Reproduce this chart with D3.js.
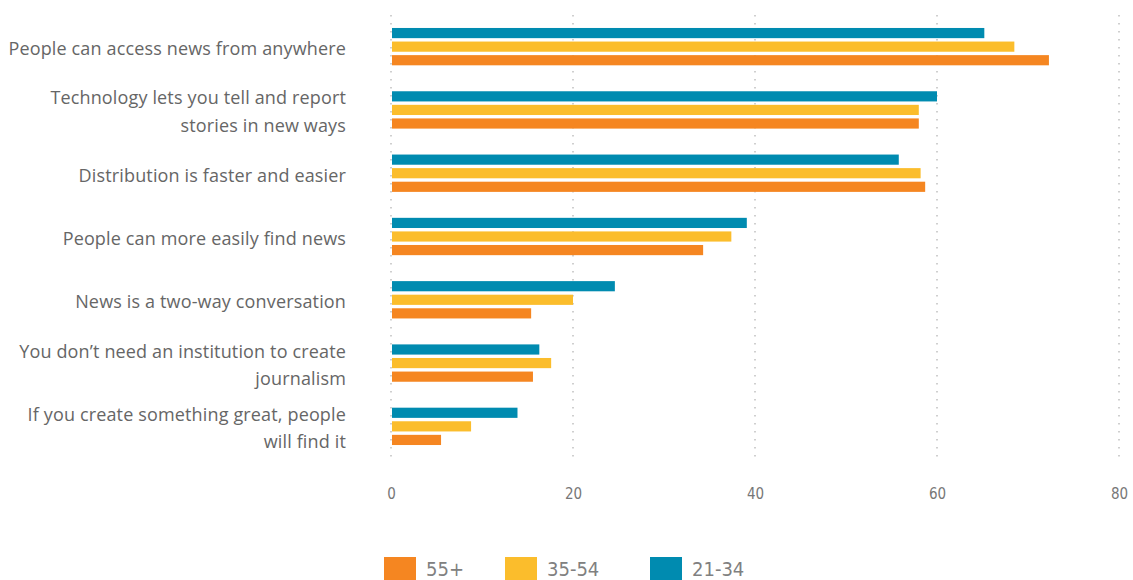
<!DOCTYPE html>
<html>
<head>
<meta charset="utf-8">
<script src="https://cdn.jsdelivr.net/npm/d3@7"></script>
<style>
  html, body { margin: 0; padding: 0; background: #fff; }
  svg { display: block; }
</style>
</head>
<body>
<svg id="chart" width="1133" height="580"></svg>
<script>
// Statements about digital journalism, agreement (%) by age group.
// "\n" marks where a long label breaks onto a second line.
const categories = [
  "People can access news from anywhere",
  "Technology lets you tell and report\nstories in new ways",
  "Distribution is faster and easier",
  "People can more easily find news",
  "News is a two-way conversation",
  "You don’t need an institution to create\njournalism",
  "If you create something great, people\nwill find it"
];
const seriesNames = ["21-34", "35-54", "55+"];
const values2134 = [65.2, 60.0, 55.8, 39.1, 24.6, 16.3, 13.9];
const values3554 = [68.5, 58.0, 58.2, 37.4, 20.0, 17.6, 8.8];
const values55   = [72.3, 58.0, 58.7, 34.3, 15.4, 15.6, 5.5];
const xTicks = [0, 20, 40, 60, 80];
const legendOrder = ["55+", "35-54", "21-34"];

const seriesValues = { "21-34": values2134, "35-54": values3554, "55+": values55 };
const colors = { "21-34": "#008bb0", "35-54": "#fbbd2c", "55+": "#f58621" };

const svg = d3.select("#chart");

const x = d3.scaleLinear().domain([0, 80]).range([391, 1119]);
const y0 = d3.scaleBand().domain(categories).range([15, 458])
  .paddingInner(0.41).paddingOuter(0.205);
const y1 = d3.scaleBand().domain(seriesNames).range([0, y0.bandwidth()])
  .paddingInner(0.25);

// dotted vertical gridlines
svg.append("g").selectAll("line").data(xTicks).join("line")
  .attr("x1", d => x(d)).attr("x2", d => x(d))
  .attr("y1", 15).attr("y2", 458)
  .attr("stroke", "#c4c4c4").attr("stroke-width", 1.6)
  .attr("stroke-dasharray", "1.6,6.4");

// bars
const groups = svg.append("g").selectAll("g").data(categories).join("g")
  .attr("transform", d => `translate(0,${y0(d)})`);
groups.selectAll("rect")
  .data((c, i) => seriesNames.map(s => ({ s, v: seriesValues[s][i] })))
  .join("rect")
  .attr("x", x(0) + 1)
  .attr("y", d => y1(d.s))
  .attr("width", d => x(d.v) - x(0) - 1)
  .attr("height", y1.bandwidth())
  .attr("fill", d => colors[d.s]);

// category labels
const labels = svg.append("g").selectAll("text").data(categories).join("text")
  .attr("x", 346)
  .attr("text-anchor", "end")
  .attr("font-family", "'Open Sans', sans-serif")
  .attr("font-size", 18)
  .attr("letter-spacing", 0.15)
  .attr("fill", "#666");
labels.each(function(d) {
  const lines = d.split("\n");
  const cy = y0(d) + y0.bandwidth() / 2 + 2;
  const lh = 27.5;
  const top = cy - (lines.length - 1) * lh / 2;
  d3.select(this).selectAll("tspan").data(lines).join("tspan")
    .attr("x", 346)
    .attr("y", (l, i) => top + i * lh)
    .attr("dy", "0.35em")
    .text(l => l);
});

// x axis tick labels
const axis = d3.axisBottom(x).tickValues(xTicks).tickSize(0).tickPadding(0);
const gAxis = svg.append("g").attr("transform", "translate(0,488)").call(axis);
gAxis.select(".domain").remove();
gAxis.selectAll("text")
  .attr("font-family", "'DejaVu Sans Condensed', 'DejaVu Sans', sans-serif")
  .attr("font-stretch", "condensed")
  .attr("font-size", 15)
  .attr("fill", "#777");

// legend
const legendX = [384, 505, 650];
const legend = svg.append("g").selectAll("g").data(legendOrder).join("g")
  .attr("transform", (d, i) => `translate(${legendX[i]},557)`);
legend.append("rect")
  .attr("width", 32).attr("height", 23)
  .attr("fill", d => colors[d]);
legend.append("text")
  .attr("x", 42).attr("y", 19)
  .attr("font-family", "'DejaVu Sans Condensed', 'DejaVu Sans', sans-serif")
  .attr("font-stretch", "condensed")
  .attr("font-size", 20)
  .attr("fill", "#808080")
  .text(d => d);
</script>
</body>
</html>
